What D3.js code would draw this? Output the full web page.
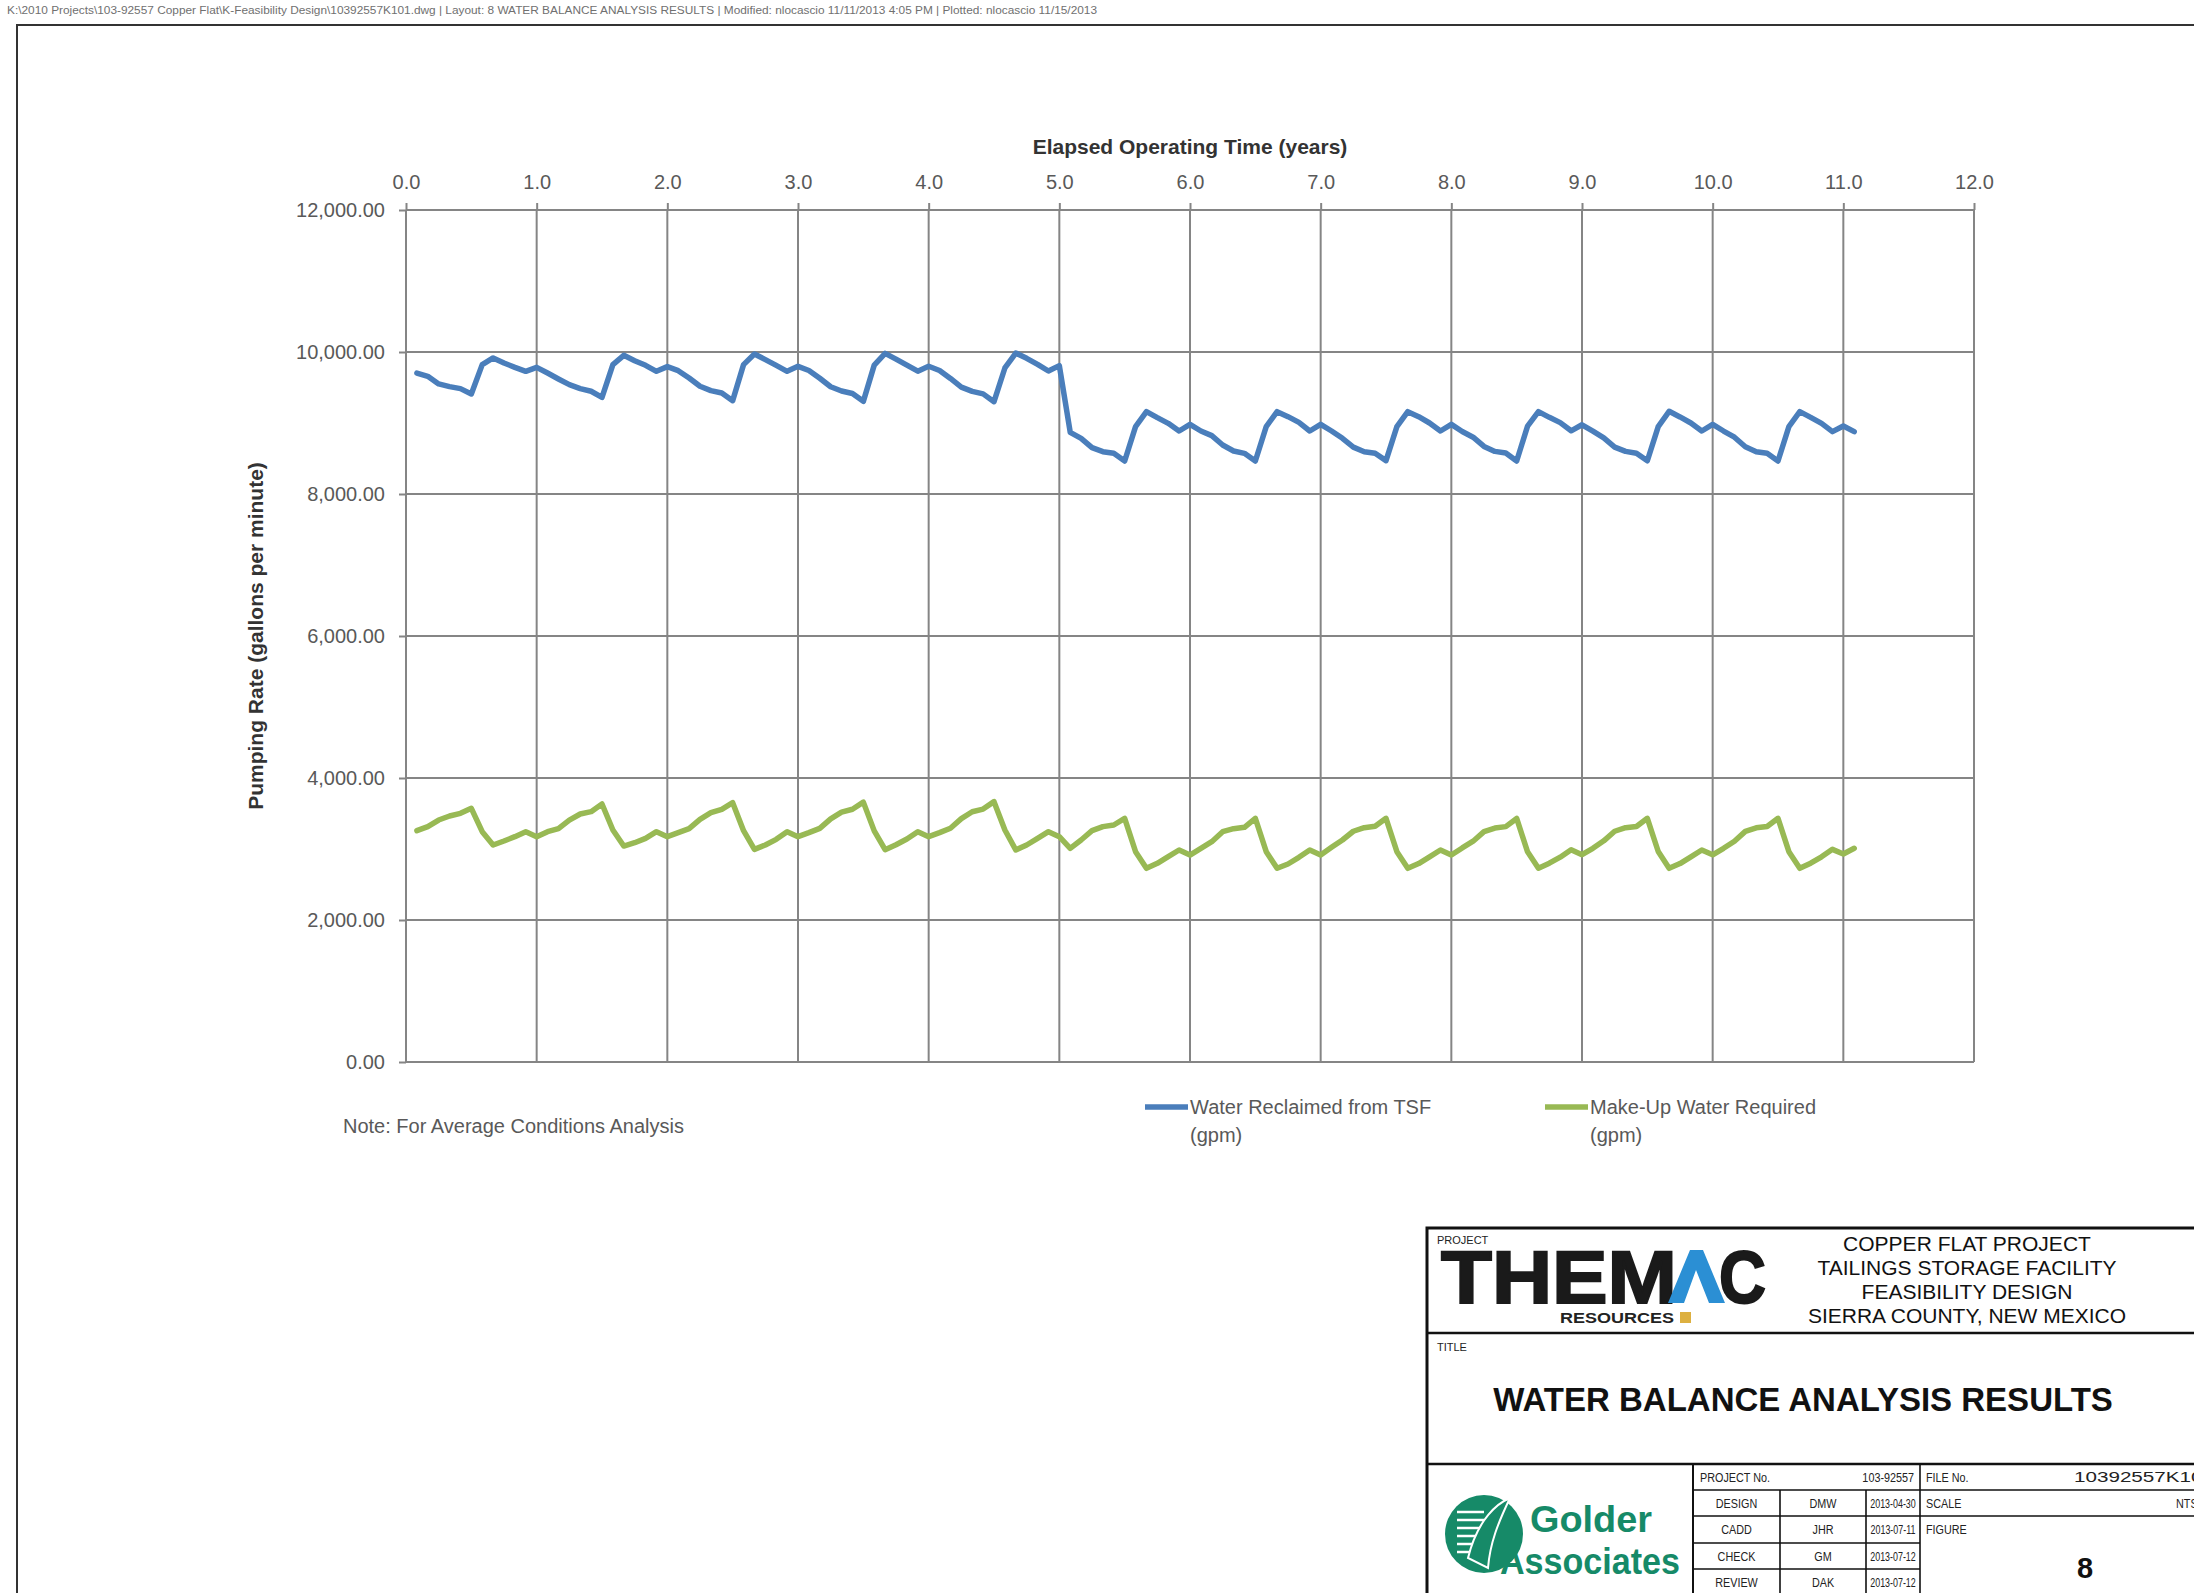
<!DOCTYPE html>
<html><head><meta charset="utf-8">
<script src="https://cdn.jsdelivr.net/npm/d3@7/dist/d3.min.js"></script>
<style>
body{margin:0;background:#fff}
svg{display:block}
text{font-family:"Liberation Sans",Arial,sans-serif}
</style>
</head><body>
<svg id="chart" width="2194" height="1593"></svg>
<script>
// ---------------- data ----------------
const xTicks = [0,1,2,3,4,5,6,7,8,9,10,11,12];
const yTicks = [0,2000,4000,6000,8000,10000,12000];
const seriesNames = ["Water Reclaimed from TSF", "Make-Up Water Required"];
const seriesUnits = ["(gpm)", "(gpm)"];
// monthly values, one row of 12 per operating year (last row: month 133)
const reclaimed = [
  9704,9658,9550,9512,9484,9409,9822,9916,9845,9784,9728,9784,
  9704,9620,9540,9484,9447,9362,9822,9953,9878,9812,9728,9794,
  9737,9634,9517,9456,9423,9315,9822,9972,9892,9812,9728,9798,
  9740,9630,9510,9450,9415,9305,9815,9980,9900,9815,9730,9800,
  9740,9628,9505,9445,9410,9300,9775,9985,9911,9826,9732,9808,
  8869,8784,8653,8596,8573,8465,8949,9160,9075,8995,8887,8981,
  8887,8822,8690,8606,8573,8465,8949,9160,9089,9009,8887,8981,
  8887,8784,8660,8596,8573,8470,8949,9160,9089,9000,8887,8981,
  8880,8800,8670,8600,8578,8465,8955,9160,9080,9005,8890,8975,
  8885,8790,8660,8600,8575,8468,8950,9165,9085,9000,8887,8980,
  8887,8800,8665,8596,8573,8465,8949,9160,9080,8995,8878,8958,
  8878
];
const makeUp = [
  3258,3315,3408,3465,3502,3573,3244,3056,3113,3174,3244,3174,
  3244,3286,3408,3493,3526,3634,3268,3042,3089,3150,3244,3174,
  3230,3286,3418,3512,3559,3652,3258,2995,3056,3136,3244,3174,
  3230,3290,3425,3520,3560,3660,3255,2990,3060,3140,3244,3174,
  3230,3292,3428,3525,3562,3667,3268,2986,3056,3150,3244,3174,
  3009,3127,3258,3315,3338,3432,2962,2728,2798,2892,2986,2915,
  3009,3103,3244,3286,3305,3432,2962,2728,2789,2883,2986,2915,
  3023,3127,3250,3300,3320,3432,2962,2728,2795,2890,2986,2915,
  3015,3110,3245,3295,3315,3430,2960,2730,2800,2885,2990,2920,
  3010,3115,3250,3300,3318,3432,2965,2728,2795,2890,2986,2918,
  3010,3110,3248,3298,3318,3432,2962,2728,2800,2890,2995,2930,
  3010
];
const monthNumber = d3.range(1, reclaimed.length + 1);   // month 1 .. 133
const seriesColors = ["#4a7ebb", "#98b954"];

// ---------------- layout ----------------
const svg = d3.select("#chart");
const L = 406, R = 1974, T = 210, B = 1062;
const x = d3.scaleLinear().domain([0, 12]).range([L, R]);
const y = d3.scaleLinear().domain([0, 12000]).range([B, T]);
const gridCol = "#858585";
const labelCol = "#595959";

// header path text
svg.append("text").attr("x", 7).attr("y", 14).attr("font-size", 10).attr("fill", "#707070")
  .attr("textLength", 1090).attr("lengthAdjust", "spacingAndGlyphs")
  .text("K:\\2010 Projects\\103-92557 Copper Flat\\K-Feasibility Design\\10392557K101.dwg  | Layout: 8 WATER BALANCE ANALYSIS RESULTS  | Modified: nlocascio 11/11/2013 4:05 PM  | Plotted: nlocascio 11/15/2013");

// drawing frame
svg.append("path").attr("d", "M17,1600 V25 H2200").attr("fill", "none").attr("stroke", "#333").attr("stroke-width", 2);

// gridlines
const grid = svg.append("g");
grid.selectAll("line.v").data(xTicks).join("line").attr("class", "v")
  .attr("x1", d => x(d)).attr("x2", d => x(d)).attr("y1", T).attr("y2", B)
  .attr("stroke", gridCol).attr("stroke-width", 2);
grid.selectAll("line.h").data(yTicks).join("line").attr("class", "h")
  .attr("x1", L).attr("x2", R).attr("y1", d => y(d)).attr("y2", d => y(d))
  .attr("stroke", gridCol).attr("stroke-width", 2.2);

// axes
const xAxis = svg.append("g").attr("transform", `translate(0,${T})`)
  .call(d3.axisTop(x).tickValues(xTicks).tickFormat(d3.format(".1f")).tickSize(7).tickPadding(14));
const yAxis = svg.append("g").attr("transform", `translate(${L},0)`)
  .call(d3.axisLeft(y).tickValues(yTicks).tickFormat(d3.format(",.2f")).tickSize(7).tickPadding(14));
[xAxis, yAxis].forEach(g => {
  g.select(".domain").remove();
  g.selectAll(".tick line").attr("stroke", gridCol).attr("stroke-width", 2);
  g.selectAll(".tick text").attr("font-size", 20).attr("fill", labelCol)
    .attr("font-family", "'Liberation Sans', Arial, sans-serif");
});

// axis titles
svg.append("text").attr("x", (L + R) / 2).attr("y", 154).attr("text-anchor", "middle")
  .attr("font-size", 21).attr("font-weight", "bold").attr("fill", "#333")
  .text("Elapsed Operating Time (years)");
svg.append("text").attr("transform", `translate(263,${(T + B) / 2}) rotate(-90)`).attr("text-anchor", "middle")
  .attr("font-size", 21).attr("font-weight", "bold").attr("fill", "#333")
  .text("Pumping Rate (gallons per minute)");

// series lines
const line = d3.line().x((d, i) => x(monthNumber[i] / 12)).y(d => y(d));
[reclaimed, makeUp].forEach((s, k) => {
  svg.append("path").datum(s).attr("d", line).attr("fill", "none")
    .attr("stroke", seriesColors[k]).attr("stroke-width", 5.5)
    .attr("stroke-linejoin", "round").attr("stroke-linecap", "round");
});

// note + legend
svg.append("text").attr("x", 343).attr("y", 1133).attr("font-size", 20).attr("fill", labelCol)
  .text("Note: For Average Conditions Analysis");
const legX = [1145, 1545];
seriesNames.forEach((n, k) => {
  const g = svg.append("g");
  g.append("line").attr("x1", legX[k]).attr("x2", legX[k] + 43).attr("y1", 1107).attr("y2", 1107)
    .attr("stroke", seriesColors[k]).attr("stroke-width", 5.5);
  g.append("text").attr("x", legX[k] + 45).attr("y", 1114).attr("font-size", 20).attr("fill", labelCol).text(n);
  g.append("text").attr("x", legX[k] + 45).attr("y", 1142).attr("font-size", 20).attr("fill", labelCol).text(seriesUnits[k]);
});

// ---------------- title block ----------------
const tb = svg.append("g");
const blk = "#111";
tb.append("path").attr("d", "M1427,1600 V1228 H2200").attr("fill", "none").attr("stroke", blk).attr("stroke-width", 3);
tb.append("line").attr("x1", 1427).attr("x2", 2200).attr("y1", 1333).attr("y2", 1333).attr("stroke", blk).attr("stroke-width", 2.5);
tb.append("line").attr("x1", 1427).attr("x2", 2200).attr("y1", 1464).attr("y2", 1464).attr("stroke", blk).attr("stroke-width", 2.5);
tb.append("text").attr("x", 1437).attr("y", 1244).attr("font-size", 11).attr("fill", "#222").text("PROJECT");
tb.append("text").attr("x", 1437).attr("y", 1351).attr("font-size", 11).attr("fill", "#222").text("TITLE");

// THEMAC logo
tb.append("text").attr("x", 1441).attr("y", 1303).attr("font-size", 74).attr("font-weight", "bold")
  .attr("fill", "#1a1a1a").attr("stroke", "#1a1a1a").attr("stroke-width", 2)
  .attr("textLength", 236).attr("lengthAdjust", "spacingAndGlyphs").text("THEM");
tb.append("path").attr("d", "M1668,1303 L1690,1250 L1703,1250 L1725,1303 L1709,1303 L1696,1270 L1684,1303 Z").attr("fill", "#2b8fd4");
tb.append("text").attr("x", 1719).attr("y", 1303).attr("font-size", 74).attr("font-weight", "bold")
  .attr("fill", "#1a1a1a").attr("stroke", "#1a1a1a").attr("stroke-width", 2)
  .attr("textLength", 47).attr("lengthAdjust", "spacingAndGlyphs").text("C");
tb.append("text").attr("x", 1560).attr("y", 1323).attr("font-size", 15).attr("font-weight", "bold").attr("fill", "#222")
  .attr("textLength", 114).attr("lengthAdjust", "spacingAndGlyphs").text("RESOURCES");
tb.append("rect").attr("x", 1680).attr("y", 1312).attr("width", 11).attr("height", 11).attr("fill", "#ddb040");

const projLines = ["COPPER FLAT PROJECT", "TAILINGS STORAGE FACILITY", "FEASIBILITY DESIGN", "SIERRA COUNTY, NEW MEXICO"];
projLines.forEach((s, i) => {
  tb.append("text").attr("x", 1967).attr("y", 1251 + i * 24).attr("text-anchor", "middle")
    .attr("font-size", 21).attr("fill", "#111").text(s);
});
tb.append("text").attr("x", 1803).attr("y", 1411).attr("text-anchor", "middle")
  .attr("font-size", 33).attr("font-weight", "bold").attr("fill", "#111")
  .text("WATER BALANCE ANALYSIS RESULTS");

// Golder logo
tb.append("line").attr("x1", 1693).attr("x2", 1693).attr("y1", 1464).attr("y2", 1600).attr("stroke", blk).attr("stroke-width", 2);
const gold = "#168a68";
tb.append("circle").attr("cx", 1484).attr("cy", 1534).attr("r", 39).attr("fill", gold);
[-22, -14, -6, 2, 10, 18].forEach(dy => {
  tb.append("line").attr("x1", 1457).attr("x2", 1484).attr("y1", 1534 + dy).attr("y2", 1534 + dy)
    .attr("stroke", "#fff").attr("stroke-width", 2.5);
});
tb.append("path").attr("d", "M1468,1558 C1478,1518 1498,1503 1510,1498 C1498,1523 1490,1543 1488,1568 Z").attr("fill", gold).attr("stroke", "#fff").attr("stroke-width", 2);
tb.append("text").attr("x", 1530).attr("y", 1532).attr("font-family", "'Liberation Serif', serif").attr("font-weight", "bold")
  .attr("font-size", 37).attr("fill", gold).attr("textLength", 122).attr("lengthAdjust", "spacingAndGlyphs").text("Golder");
tb.append("text").attr("x", 1500).attr("y", 1574).attr("font-family", "'Liberation Serif', serif").attr("font-weight", "bold")
  .attr("font-size", 37).attr("fill", gold).attr("textLength", 180).attr("lengthAdjust", "spacingAndGlyphs").text("Associates");

// table
const rows = [1464, 1490, 1516, 1543, 1569, 1595];
const cols = [1693, 1780, 1866, 1920];
const tl = (x1, y1, x2, y2) => tb.append("line").attr("x1", x1).attr("y1", y1).attr("x2", x2).attr("y2", y2).attr("stroke", blk).attr("stroke-width", 1.6);
tl(1693, rows[1], 2200, rows[1]);
tl(1693, rows[2], 2200, rows[2]);
tl(1693, rows[3], cols[3], rows[3]);
tl(1693, rows[4], cols[3], rows[4]);
tl(cols[1], rows[1], cols[1], 1600);
tl(cols[2], rows[1], cols[2], 1600);
tl(cols[3], rows[0], cols[3], 1600);

const tableRoles = ["DESIGN", "CADD", "CHECK", "REVIEW"];
const tableInitials = ["DMW", "JHR", "GM", "DAK"];
const tableDates = ["2013-04-30", "2013-07-11", "2013-07-12", "2013-07-12"];
const cellText = (tx, ty, s, anchor, sx) => tb.append("text")
  .attr("transform", `translate(${tx},${ty}) scale(${sx || 0.8},1)`).attr("text-anchor", anchor || "start")
  .attr("font-size", 13.5).attr("fill", "#222").text(s);
cellText(1700, 1482, "PROJECT No.");
cellText(1914, 1482, "103-92557", "end");
cellText(1926, 1482, "FILE No.");
tb.append("text").attr("x", 2074).attr("y", 1482).attr("font-size", 14).attr("fill", "#222")
  .attr("textLength", 140).attr("lengthAdjust", "spacingAndGlyphs").text("10392557K101");
cellText(1926, 1508, "SCALE");
cellText(2176, 1508, "NTS");
cellText(1926, 1534, "FIGURE");
tableRoles.forEach((s, i) => {
  const ty = rows[i + 1] + 18;
  cellText((cols[0] + cols[1]) / 2, ty, s, "middle");
  cellText((cols[1] + cols[2]) / 2, ty, tableInitials[i], "middle");
  cellText((cols[2] + cols[3]) / 2, ty, tableDates[i], "middle", 0.66);
});
tb.append("text").attr("x", 2085).attr("y", 1578).attr("text-anchor", "middle")
  .attr("font-size", 29).attr("font-weight", "bold").attr("fill", "#111").text("8");
</script>
</body></html>
